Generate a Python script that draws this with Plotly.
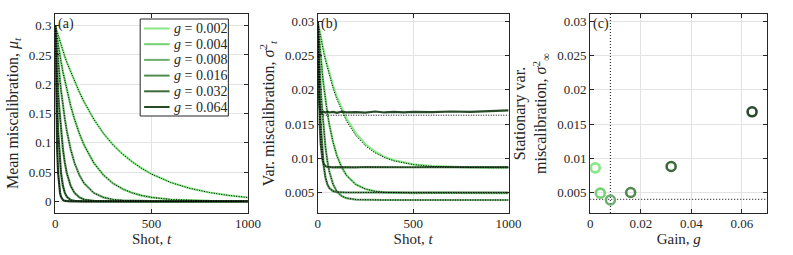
import plotly.graph_objects as go

# ---------------- data ----------------
gains = [0.002, 0.004, 0.008, 0.016, 0.032, 0.064]
gain_labels = ["0.002", "0.004", "0.008", "0.016", "0.032", "0.064"]
colors = ["#86e886", "#72d272", "#6cae6c", "#4f8a4f", "#3b6a3b", "#284a28"]

shots = [0, 3, 6, 10, 15, 20, 25, 30, 40, 50, 60, 80, 100, 125, 150, 200,
         250, 300, 350, 400, 450, 500, 600, 700, 800, 900, 1000]

# (a) mean miscalibration
mean_g002 = [0.3, 0.2966, 0.2932, 0.2888, 0.2833, 0.2778, 0.2724, 0.2671, 0.2569, 0.2470,
             0.2376, 0.2214, 0.2052, 0.1866, 0.1697, 0.1403, 0.1160, 0.0965, 0.0805, 0.0672,
             0.0560, 0.0465, 0.0320, 0.0220, 0.0150, 0.0100, 0.0065]
mean_g004 = [0.3, 0.2933, 0.2866, 0.2780, 0.2676, 0.2575, 0.2479, 0.2386, 0.2210, 0.2052,
             0.1901, 0.1633, 0.1403, 0.1160, 0.0959, 0.0656, 0.0449, 0.0307, 0.0210, 0.0143,
             0.0098, 0.0067, 0.0031, 0.0015, 0.0007, 0.0003, 0.0002]
mean_g008 = [0.3, 0.2866, 0.2738, 0.2577, 0.2388, 0.2214, 0.2052, 0.1901, 0.1633, 0.1403,
             0.1205, 0.0889, 0.0656, 0.0449, 0.0307, 0.0143, 0.0067, 0.0031, 0.0015, 0.0007,
             0.0003, 0.0002, 0.0, 0.0, 0.0, 0.0, 0.0]
mean_g016 = [0.3, 0.2738, 0.2500, 0.2214, 0.1901, 0.1633, 0.1403, 0.1205, 0.0889, 0.0656,
             0.0484, 0.0263, 0.0143, 0.0067, 0.0031, 0.0007, 0.0002, 0.0, 0.0, 0.0,
             0.0, 0.0, 0.0, 0.0, 0.0, 0.0, 0.0]
mean_g032 = [0.3, 0.2500, 0.2083, 0.1633, 0.1205, 0.0889, 0.0656, 0.0484, 0.0263, 0.0143,
             0.0078, 0.0023, 0.0007, 0.0002, 0.0, 0.0, 0.0, 0.0, 0.0, 0.0,
             0.0, 0.0, 0.0, 0.0, 0.0, 0.0, 0.0]
mean_g064 = [0.3, 0.2083, 0.1446, 0.0889, 0.0484, 0.0263, 0.0143, 0.0078, 0.0023, 0.0007,
             0.0002, 0.0, 0.0, 0.0, 0.0, 0.0, 0.0, 0.0, 0.0, 0.0,
             0.0, 0.0, 0.0, 0.0, 0.0, 0.0, 0.0]

# (b) variance of miscalibration: simulation
var_sim_g002 = [0.0300, 0.02952, 0.02904, 0.02843, 0.02775, 0.02705, 0.02640, 0.02575, 0.02455, 0.02345,
                0.02240, 0.02055, 0.01895, 0.01725, 0.01580, 0.01360, 0.01205, 0.01095, 0.01020, 0.00970,
                0.00935, 0.00910, 0.00885, 0.00872, 0.00866, 0.00864, 0.00862]
var_sim_g004 = [0.0300, 0.02888, 0.02781, 0.02646, 0.02488, 0.02342, 0.02207, 0.02081, 0.01856, 0.01664,
                0.01498, 0.01234, 0.01039, 0.00870, 0.00752, 0.00615, 0.00550, 0.00518, 0.00503, 0.00497,
                0.00494, 0.00492, 0.00493, 0.00491, 0.00492, 0.00490, 0.00491]
var_sim_g008 = [0.0300, 0.02772, 0.02565, 0.02316, 0.02044, 0.01811, 0.01611, 0.01438, 0.01164, 0.00961,
                0.00811, 0.00619, 0.00515, 0.00448, 0.00417, 0.00396, 0.00391, 0.00390, 0.00390, 0.00390,
                0.00390, 0.00390, 0.00390, 0.00390, 0.00390, 0.00390, 0.00390]
var_sim_g016 = [0.0300, 0.02583, 0.02236, 0.01861, 0.01504, 0.01241, 0.01047, 0.00904, 0.00720, 0.00620,
                0.00565, 0.00519, 0.00506, 0.00501, 0.00500, 0.00500, 0.00500, 0.00500, 0.00500, 0.00500,
                0.00500, 0.00500, 0.00500, 0.00500, 0.00500, 0.00500, 0.00500]
var_sim_g032 = [0.0300, 0.02349, 0.01897, 0.01501, 0.01214, 0.01057, 0.00972, 0.00925, 0.00886, 0.00875,
                0.00871, 0.00868, 0.00872, 0.00869, 0.00871, 0.00868, 0.00873, 0.00870, 0.00868, 0.00872,
                0.00870, 0.00869, 0.00872, 0.00870, 0.00871, 0.00869, 0.00872]
var_sim_g064 = [0.0300, 0.02290, 0.01948, 0.01750, 0.01670, 0.01665, 0.01672, 0.01680, 0.01668, 0.01685,
                0.01670, 0.01678, 0.01665, 0.01682, 0.01672, 0.01676, 0.01668, 0.01684, 0.01670, 0.01678,
                0.01672, 0.01680, 0.01674, 0.01684, 0.01680, 0.01690, 0.01700]

# (b) variance of miscalibration: theory
var_th_g002 = [0.0300, 0.02952, 0.02904, 0.02843, 0.02769, 0.02697, 0.02628, 0.02562, 0.02437, 0.02324,
               0.02216, 0.02025, 0.01861, 0.01688, 0.01544, 0.01328, 0.01180, 0.01079, 0.01010, 0.00962,
               0.00930, 0.00908, 0.00882, 0.00870, 0.00865, 0.00862, 0.00861]
var_th_g004 = var_sim_g004
var_th_g008 = var_sim_g008
var_th_g016 = var_sim_g016
var_th_g032 = [0.0300, 0.02349, 0.01897, 0.01501, 0.01214, 0.01057, 0.00972, 0.00925, 0.00886, 0.00875,
               0.00871, 0.00870, 0.00870, 0.00870, 0.00870, 0.00870, 0.00870, 0.00870, 0.00870, 0.00870,
               0.00870, 0.00870, 0.00870, 0.00870, 0.00870, 0.00870, 0.00870]
var_th_g064 = [0.0300, 0.02290, 0.01948, 0.01750, 0.01666, 0.01641, 0.01633, 0.01631, 0.01630, 0.01630,
               0.01630, 0.01630, 0.01630, 0.01630, 0.01630, 0.01630, 0.01630, 0.01630, 0.01630, 0.01630,
               0.01630, 0.01630, 0.01630, 0.01630, 0.01630, 0.01630, 0.01630]

# (c) stationary variance vs gain
stationary_var = [0.0086, 0.0049, 0.0039, 0.0050, 0.0088, 0.0168]
optimal_gain = 0.008
minimal_var = 0.0040

means = [mean_g002, mean_g004, mean_g008, mean_g016, mean_g032, mean_g064]
var_sims = [var_sim_g002, var_sim_g004, var_sim_g008, var_sim_g016, var_sim_g032, var_sim_g064]
var_ths = [var_th_g002, var_th_g004, var_th_g008, var_th_g016, var_th_g032, var_th_g064]

# ---------------- figure ----------------
FONT = "Liberation Serif"
AX = "#262626"
GRID = "#e3e3e3"
W, H = 793, 255


def px(x):
    return x / W


def py(y):
    return 1 - y / H


fig = go.Figure()

for i, g in enumerate(gains):
    fig.add_trace(go.Scatter(x=shots, y=means[i], mode="lines",
                             line=dict(color=colors[i], width=2.2),
                             name="g = " + gain_labels[i],
                             showlegend=False, xaxis="x", yaxis="y"))
for i, g in enumerate(gains):
    fig.add_trace(go.Scatter(x=shots, y=var_sims[i], mode="lines",
                             line=dict(color=colors[i], width=2.2),
                             showlegend=False, xaxis="x2", yaxis="y2"))
for i, g in enumerate(gains):
    fig.add_trace(go.Scatter(x=shots, y=means[i], mode="lines",
                             line=dict(color="black", width=1, dash="1px,1.5px"),
                             showlegend=False, xaxis="x", yaxis="y"))
    fig.add_trace(go.Scatter(x=shots, y=var_ths[i], mode="lines",
                             line=dict(color="black", width=1, dash="1px,1.5px"),
                             showlegend=False, xaxis="x2", yaxis="y2"))

fig.add_trace(go.Scatter(x=[optimal_gain, optimal_gain], y=[0.002, 0.0311], mode="lines",
                         line=dict(color="#333333", width=1.2, dash="1px,2px"),
                         showlegend=False, xaxis="x3", yaxis="y3"))
fig.add_trace(go.Scatter(x=[0, 0.07], y=[minimal_var, minimal_var], mode="lines",
                         line=dict(color="#333333", width=1.2, dash="1px,2px"),
                         showlegend=False, xaxis="x3", yaxis="y3"))
for i, g in enumerate(gains):
    fig.add_trace(go.Scatter(x=[g], y=[stationary_var[i]], mode="markers",
                             marker=dict(symbol="circle-open", size=9, color=colors[i],
                                         line=dict(width=2.6, color=colors[i])),
                             showlegend=False, xaxis="x3", yaxis="y3"))

ydom = [py(213), py(14)]
common = dict(showline=True, linecolor=AX, linewidth=1, mirror="ticks", ticks="inside",
              ticklen=4, tickcolor=AX, showgrid=True, gridcolor=GRID, gridwidth=1,
              zeroline=False, tickfont=dict(family=FONT, size=13, color=AX))
xtitle_font = dict(family=FONT, size=15, color=AX)
ytitle_font = dict(family=FONT, size=16, color=AX)

fig.update_layout(
    width=W, height=H, margin=dict(l=0, r=0, t=0, b=0),
    plot_bgcolor="white", paper_bgcolor="white", hovermode=False,
    font=dict(family=FONT, color=AX, size=13),
    xaxis=dict(domain=[px(53.3), px(250)], range=[0, 1000], tickvals=[0, 500, 1000],
               ticklabelstandoff=-2,
               title=dict(text="Shot, <i>t</i>", standoff=0, font=xtitle_font), anchor="y", **common),
    yaxis=dict(domain=ydom, range=[-0.02, 0.32],
               tickvals=[0, 0.05, 0.1, 0.15, 0.2, 0.25, 0.3],
               ticktext=["0", "0.05", "0.1", "0.15", "0.2", "0.25", "0.3"],
               title=dict(text="Mean miscalibration, <i>μ<sub>t</sub></i>", standoff=6, font=ytitle_font),
               anchor="x", **common),
    xaxis2=dict(domain=[px(321.3), px(516)], range=[0, 1000], tickvals=[0, 500, 1000],
                ticklabelstandoff=-2,
                title=dict(text="Shot, <i>t</i>", standoff=0, font=xtitle_font), anchor="y2", **common),
    yaxis2=dict(domain=ydom, range=[0.002, 0.0311],
                tickvals=[0.005, 0.01, 0.015, 0.02, 0.025, 0.03],
                ticktext=["0.005", "0.01", "0.015", "0.02", "0.025", "0.03"],
                title=dict(text="Var. miscalibration, <i>σ</i><sup>2</sup><sub><i>t</i></sub>", standoff=6,
                           font=ytitle_font),
                anchor="x2", **common),
    xaxis3=dict(domain=[px(599.3), px(780)], range=[0, 0.07], tickvals=[0, 0.02, 0.04, 0.06],
                ticktext=["0", "0.02", "0.04", "0.06"], ticklabelstandoff=-2,
                title=dict(text="Gain, <i>g</i>", standoff=0, font=xtitle_font), anchor="y3", **common),
    yaxis3=dict(domain=ydom, range=[0.002, 0.0311],
                tickvals=[0.005, 0.01, 0.015, 0.02, 0.025, 0.03],
                ticktext=["0.005", "0.01", "0.015", "0.02", "0.025", "0.03"],
                title=dict(text="Stationary var.<br>miscalibration, <i>σ</i><sup>2</sup><sub>∞</sub>", standoff=6,
                           font=ytitle_font),
                anchor="x3", **common),
)

# legend box drawn in panel (a): frame, line samples and labels (layout decoration)
leg_left, leg_right, leg_top, leg_bottom = 140, 230, 19, 116
row0, row_step = 28.5, 15.7
fig.add_shape(type="rect", xref="paper", yref="paper",
              x0=px(leg_left), x1=px(leg_right), y0=py(leg_bottom), y1=py(leg_top),
              line=dict(color=AX, width=1), fillcolor="white", layer="above")
for i in range(len(gains)):
    yy = py(row0 + row_step * i)
    fig.add_shape(type="line", xref="paper", yref="paper",
                  x0=px(leg_left + 4), x1=px(leg_left + 30), y0=yy, y1=yy,
                  line=dict(color=colors[i], width=2), layer="above")
    fig.add_annotation(text="<i>g</i> = " + gain_labels[i], xref="paper", yref="paper",
                       x=px(leg_left + 32), y=yy, xanchor="left", yanchor="middle",
                       showarrow=False, font=dict(family=FONT, size=14, color=AX))

for ref, lab in [("x", "(a)"), ("x2", "(b)"), ("x3", "(c)")]:
    yref = {"x": "y", "x2": "y2", "x3": "y3"}[ref]
    fig.add_annotation(text=lab, xref=ref + " domain", yref=yref + " domain",
                       x=0.0, y=1.0, xanchor="left", yanchor="top", showarrow=False,
                       font=dict(family=FONT, size=14, color=AX), xshift=1)

# remove the default page margin so the figure sits at the window's top-left corner
fig.write_html("out.html", config={"displayModeBar": False},
               post_script="document.body.style.margin='0px';document.body.style.padding='0px';")
